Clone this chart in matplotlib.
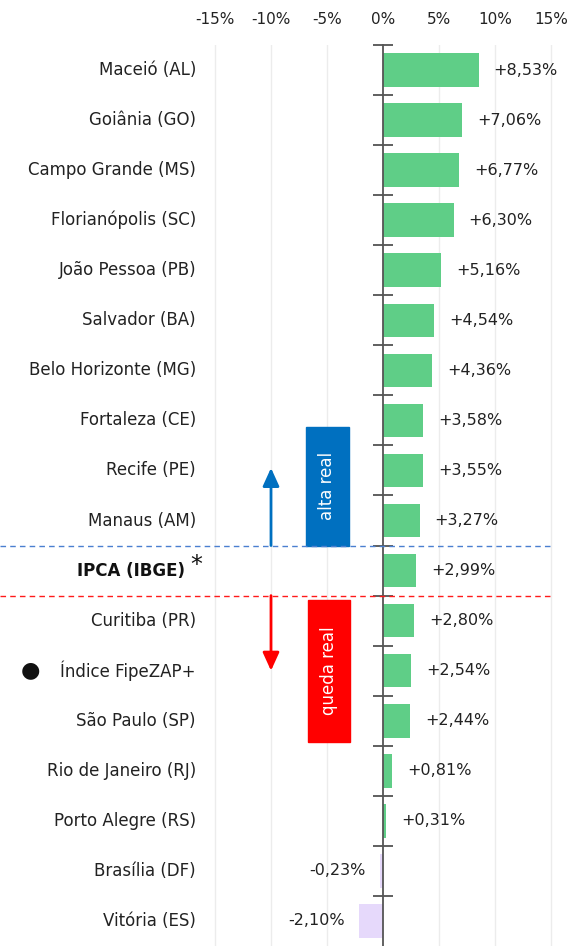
import matplotlib
matplotlib.use("Agg")
import matplotlib.pyplot as plt
from matplotlib.lines import Line2D
from matplotlib.patches import Rectangle
from matplotlib.transforms import blended_transform_factory

categories = ["Maceió (AL)", "Goiânia (GO)", "Campo Grande (MS)", "Florianópolis (SC)",
              "João Pessoa (PB)", "Salvador (BA)", "Belo Horizonte (MG)", "Fortaleza (CE)",
              "Recife (PE)", "Manaus (AM)", "IPCA (IBGE)", "Curitiba (PR)", "Índice FipeZAP+",
              "São Paulo (SP)", "Rio de Janeiro (RJ)", "Porto Alegre (RS)", "Brasília (DF)",
              "Vitória (ES)"]
values = [8.53, 7.06, 6.77, 6.30, 5.16, 4.54, 4.36, 3.58, 3.55, 3.27, 2.99, 2.80, 2.54,
          2.44, 0.81, 0.31, -0.23, -2.10]
xticks = [-15, -10, -5, 0, 5, 10, 15]
xtick_labels = ["-15%", "-10%", "-5%", "0%", "5%", "10%", "15%"]

plt.rcParams['font.family'] = ["DejaVu Sans"]

W, H = 573, 946
fig = plt.figure(figsize=(W/100, H/100), dpi=100)
ax_left, ax_right, ax_top, ax_bottom = 200, 566, 45, 946
ax = fig.add_axes([ax_left/W, 1 - ax_bottom/H, (ax_right-ax_left)/W, (ax_bottom-ax_top)/H])
px_per_pct = 11.2
ax.set_xlim(-(383-ax_left)/px_per_pct, (ax_right - 383)/px_per_pct)
n = len(categories)
ax.set_ylim(n - 0.5, -0.5)

green = "#5fce87"
lav = "#e6d9fb"
colors = [green if v >= 0 else lav for v in values]
ys = list(range(n))
ax.barh(ys, values, height=0.67, color=colors, zorder=2)

for s in ax.spines.values():
    s.set_visible(False)
ax.spines['left'].set_visible(True)
ax.spines['left'].set_position(('data', 0))
ax.spines['left'].set_color("#555555")
ax.spines['left'].set_linewidth(1.3)
ax.spines['left'].set_zorder(3)
ax.set_yticks([i - 0.5 for i in range(n)])
ax.set_yticklabels([])
ax.tick_params(axis='y', direction='inout', length=14, width=1.2, color="#444444")

ax.xaxis.tick_top()
ax.set_xticks(xticks)
ax.set_xticklabels(xtick_labels, fontsize=11, color="#222222")
ax.tick_params(axis='x', length=0, pad=13)
for xv in xticks:
    if xv != 0:
        ax.axvline(xv, color="#ececec", lw=1, zorder=0)

lab_tr = blended_transform_factory(fig.transFigure, ax.transData)
for i, (c, v) in enumerate(zip(categories, values)):
    if c.startswith("IPCA"):
        ax.text(185/W, i, c, transform=lab_tr, ha="right", va="center", fontsize=12,
                fontweight="bold", color="#111111")
        ax.text(190/W, i - 0.12, "*", transform=lab_tr, ha="left", va="center",
                fontsize=17, color="#111111")
    elif c.startswith("Índice"):
        ax.text(196/W, i, c, transform=lab_tr, ha="right", va="center", fontsize=12,
                color="#222222")
        ax.text(30/W, i, "●", transform=lab_tr, ha="center", va="center", fontsize=16,
                color="#111111")
    else:
        ax.text(196/W, i, c, transform=lab_tr, ha="right", va="center", fontsize=12,
                color="#222222")
    lab = ("+" if v >= 0 else "") + f"{v:.2f}".replace(".", ",") + "%"
    off = 15 / px_per_pct
    if v >= 0:
        ax.text(v + off, i, lab, ha="left", va="center", fontsize=11.5, color="#222222")
    else:
        ax.text(v - off, i, lab, ha="right", va="center", fontsize=11.5, color="#222222")

# dashed threshold lines
fig.add_artist(Line2D([0, 553/W], [9.5, 9.5], transform=lab_tr, color="#4a7fd0",
                      lw=1, ls=(0, (4, 3)), zorder=5))
fig.add_artist(Line2D([0, 553/W], [10.5, 10.5], transform=lab_tr, color="#ff1a1a",
                      lw=1, ls=(0, (4, 3)), zorder=5))

blue = "#0070c0"
red = "#ff0000"
ax.add_patch(Rectangle((-6.9, 7.13), 3.85, 9.5 - 7.13, color=blue, zorder=4))
ax.text(-4.97, (7.13 + 9.5) / 2, "alta real", rotation=90, ha="center", va="center",
        color="white", fontsize=12, zorder=5)
ax.add_patch(Rectangle((-6.7, 10.58), 3.75, 13.42 - 10.58, color=red, zorder=4))
ax.text(-4.82, (10.58 + 13.42) / 2, "queda real", rotation=90, ha="center", va="center",
        color="white", fontsize=12, zorder=5)

ax.annotate("", xy=(-10, 7.95), xytext=(-10, 9.5),
            arrowprops=dict(arrowstyle="-|>,head_length=1.1,head_width=0.5", color=blue,
                            lw=2, shrinkA=0, shrinkB=0))
ax.annotate("", xy=(-10, 12.0), xytext=(-10, 10.5),
            arrowprops=dict(arrowstyle="-|>,head_length=1.1,head_width=0.5", color=red,
                            lw=2, shrinkA=0, shrinkB=0))

fig.savefig("out.png", dpi=100)
